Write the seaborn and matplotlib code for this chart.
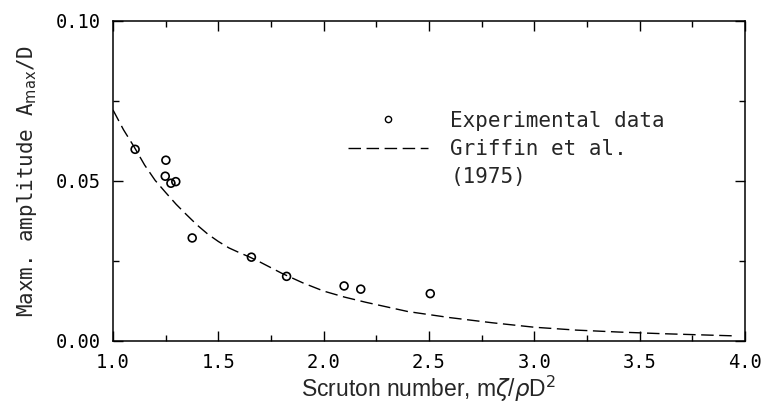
import matplotlib
matplotlib.use("Agg")
import matplotlib.pyplot as plt
from matplotlib.lines import Line2D
from matplotlib.ticker import MultipleLocator, FixedLocator
import seaborn as sns
import pandas as pd

# Experimental data points
exp_x = [1.105, 1.251, 1.248, 1.275, 1.298, 1.376, 1.657, 1.824, 2.097, 2.176, 2.506]
exp_y = [0.0599, 0.0565, 0.0515, 0.0493, 0.0498, 0.0322, 0.0262, 0.0202, 0.0172, 0.0162, 0.0148]

# Griffin et al. (1975) curve
griffin_x = [1.0, 1.05, 1.1, 1.15, 1.2, 1.25, 1.3, 1.35, 1.4, 1.45, 1.5, 1.55, 1.6,
             1.65, 1.7, 1.8, 1.9, 2.0, 2.1, 2.2, 2.4, 2.6, 2.8, 3.0, 3.2, 3.4,
             3.6, 3.8, 3.95]
griffin_y = [0.0722, 0.066, 0.0607, 0.055, 0.0502, 0.0464, 0.0427, 0.0394, 0.0362,
             0.0334, 0.0311, 0.0291, 0.0276, 0.0262, 0.0246, 0.0212, 0.0182, 0.0156,
             0.0137, 0.0121, 0.0092, 0.0073, 0.0057, 0.0043, 0.0034, 0.0028,
             0.0023, 0.0019, 0.0016]

x_ticks = [1.0, 1.5, 2.0, 2.5, 3.0, 3.5, 4.0]
x_ticklabels = ["1.0", "1.5", "2.0", "2.5", "3.0", "3.5", "4.0"]
y_ticks = [0.00, 0.05, 0.10]
y_ticklabels = ["0.00", "0.05", "0.10"]

legend_labels = ["Experimental data", "Griffin et al.", "(1975)"]

sns.set_style("ticks")
plt.rcParams["font.family"] = ["DejaVu Sans Mono", "DejaVu Sans"]
plt.rcParams["mathtext.fontset"] = "dejavusans"
plt.rcParams["lines.scale_dashes"] = False

fig = plt.figure(figsize=(7.67, 4.09), dpi=100)
ax = fig.add_axes([113 / 767, 68 / 409, 632 / 767, 320 / 409])

exp_df = pd.DataFrame({"x": exp_x, "y": exp_y})
gr_df = pd.DataFrame({"x": griffin_x, "y": griffin_y})

sns.lineplot(data=gr_df, x="x", y="y", ax=ax, color="black", linewidth=1.0,
             sort=False)
ax.lines[-1].set_dashes((9, 4))
ax.scatter(exp_df["x"], exp_df["y"], s=32, facecolors="none", edgecolors="black",
           linewidths=1.2, zorder=3)

ax.set_xlim(1.0, 4.0)
ax.set_ylim(0.0, 0.10)
ax.xaxis.set_major_locator(FixedLocator(x_ticks))
ax.set_xticklabels(x_ticklabels)
ax.xaxis.set_minor_locator(MultipleLocator(0.25))
ax.yaxis.set_major_locator(FixedLocator(y_ticks))
ax.set_yticklabels(y_ticklabels)
ax.yaxis.set_minor_locator(MultipleLocator(0.025))

ax.tick_params(which="both", direction="in", top=True, right=True, colors="black",
               width=1.0)
ax.tick_params(which="major", length=7, labelsize=13.5, pad=9)
ax.tick_params(which="minor", length=4)
ax.tick_params(axis="x", which="major", pad=9)
for sp in ax.spines.values():
    sp.set_linewidth(1.1)
    sp.set_color("black")

ax.set_xlabel(r"Scruton number, m$\zeta$/$\rho$D$^2$", fontsize=16.5,
              family="Liberation Sans", labelpad=1)
ax.set_ylabel(r"Maxm. amplitude A$_{\rm max}$/D", fontsize=15, labelpad=12)

handles = [
    Line2D([], [], marker="o", linestyle="none", markerfacecolor="none",
           markeredgecolor="black", markersize=4.5, markeredgewidth=1.0),
    Line2D([], [], color="black", linewidth=1.0, dashes=(9, 4)),
    Line2D([], [], linestyle="none"),
]
ax.legend(handles, legend_labels, loc="upper left", bbox_to_anchor=(0.372, 0.72),
          frameon=False, fontsize=15, handlelength=3.85, handletextpad=1.05,
          borderpad=0, borderaxespad=0, labelspacing=0.4)

fig.savefig("out.png", dpi=100)
